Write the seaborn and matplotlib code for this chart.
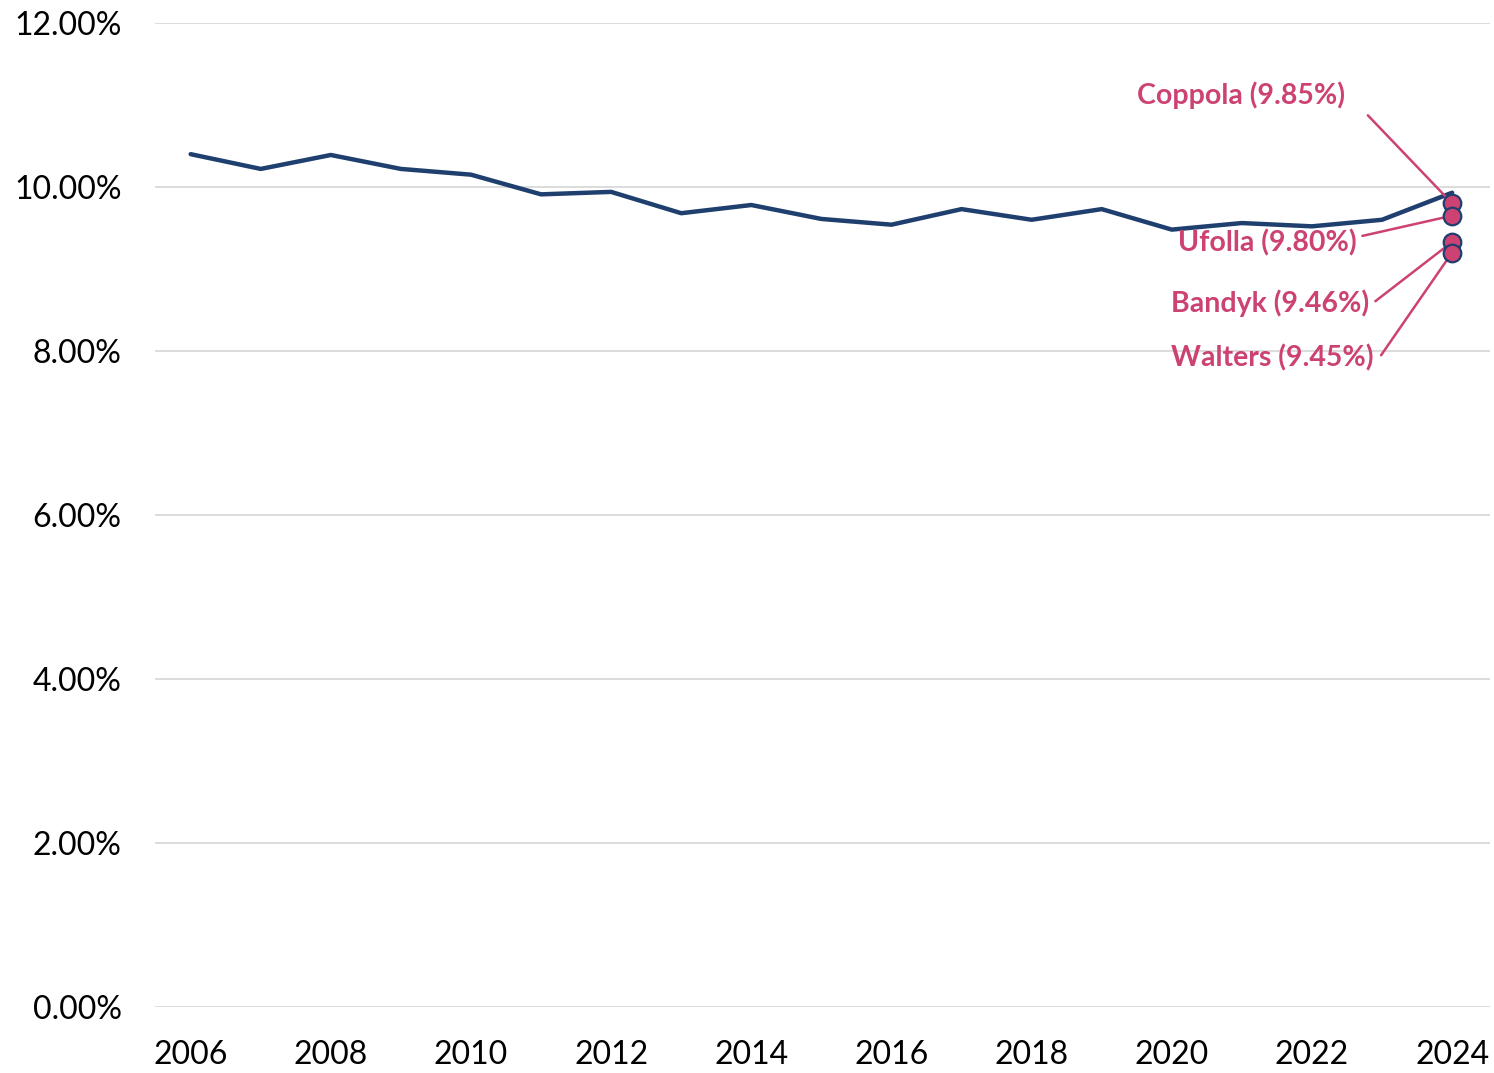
import matplotlib
matplotlib.use("Agg")
import matplotlib.pyplot as plt
import matplotlib.ticker as mtick
import seaborn as sns
import pandas as pd

# yearly average rate (fraction)
years = list(range(2006, 2025))
avg_rate = [0.1040, 0.1022, 0.1039, 0.1022, 0.1015, 0.0991, 0.0994, 0.0968, 0.0978,
            0.0961, 0.0954, 0.0973, 0.0960, 0.0973, 0.0948, 0.0956, 0.0952, 0.0960, 0.0993]

# individual points for 2024 (as drawn) and their labels
names = ["Coppola", "Ufolla", "Bandyk", "Walters"]
point_vals = [0.0980, 0.0965, 0.0933, 0.0920]
label_pcts = ["9.85%", "9.80%", "9.46%", "9.45%"]

navy = "#1F3F6E"
pink = "#CC4273"

sns.set_theme(style="white")
plt.rcParams["font.family"] = ["Lato", "DejaVu Sans"]

df = pd.DataFrame({"year": years, "rate": avg_rate})
pts = pd.DataFrame({"year": [2024] * len(names), "rate": point_vals, "name": names})

fig = plt.figure(figsize=(14.94, 10.73), dpi=100)
ax = fig.add_axes([0.1037, 0.0615, 0.8936, 0.9171])

ax.yaxis.grid(True, color="#D9D9D9", linewidth=1.3)
ax.set_axisbelow(True)

sns.lineplot(data=df, x="year", y="rate", color=navy, linewidth=3.2, ax=ax, zorder=3)
sns.scatterplot(data=pts, x="year", y="rate", color=pink, edgecolor=navy, linewidth=1.6,
                s=160, ax=ax, zorder=4, legend=False)

# label placement (pixel offsets from each point) and leader-line anchors
offsets = [(-211, 108), (-185, -27), (-182, -61), (-180, -105)]
relpos = [(1.1, -0.15), (1.0, 0.7), (1.02, 0.5), (1.03, 0.5)]
for name, val, pct, off, rp in zip(names, point_vals, label_pcts, offsets, relpos):
    ax.annotate(f"{name} ({pct})", xy=(2024, val), xytext=off, textcoords="offset pixels",
                ha="center", va="center", fontsize=20.5, fontweight="bold", color=pink,
                arrowprops=dict(arrowstyle="-", color=pink, lw=1.8, relpos=rp,
                                shrinkA=2, shrinkB=6))

ax.set_xlim(2005.49, 2024.54)
ax.set_ylim(0, 0.12)
ax.set_xticks(range(2006, 2025, 2))
ax.set_yticks([0, 0.02, 0.04, 0.06, 0.08, 0.10, 0.12])
ax.yaxis.set_major_formatter(mtick.PercentFormatter(1.0, decimals=2))
ax.tick_params(axis="both", length=0, labelsize=23, labelcolor="black")
ax.tick_params(axis="x", pad=24)
ax.tick_params(axis="y", pad=24)
ax.set_xlabel("")
ax.set_ylabel("")
sns.despine(ax=ax, left=True, bottom=True)

fig.savefig("out.png", dpi=100)
